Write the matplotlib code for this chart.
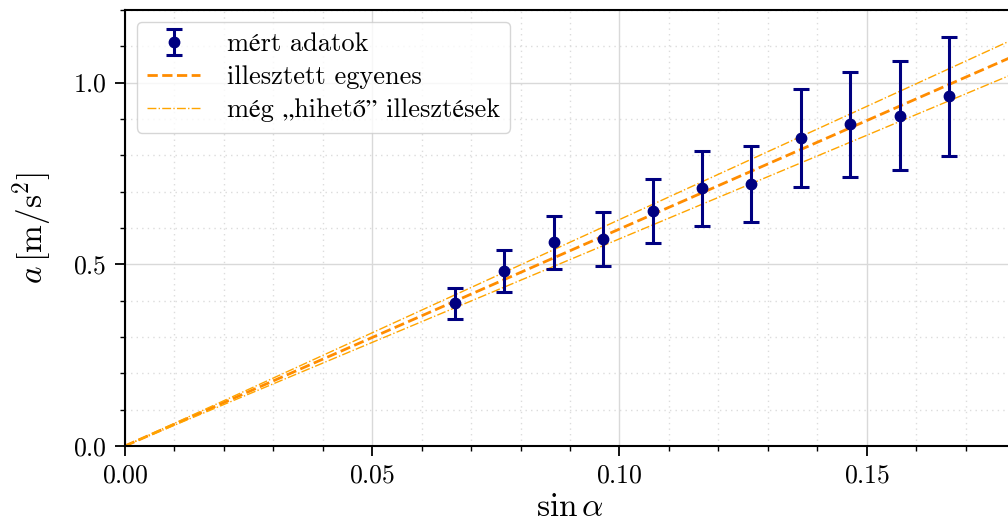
import numpy as np
import matplotlib
matplotlib.use("Agg")
import matplotlib.pyplot as plt
from matplotlib.ticker import MultipleLocator

plt.rcParams['font.family'] = ['cmr10', 'STIXGeneral']
plt.rcParams['mathtext.fontset'] = 'cm'
plt.rcParams['axes.formatter.use_mathtext'] = True

# measured data
sin_a = np.array([0.0667, 0.0767, 0.0867, 0.0967, 0.1067, 0.1167,
                  0.1267, 0.1367, 0.1467, 0.1567, 0.1667])
acc = np.array([0.393, 0.481, 0.560, 0.569, 0.646, 0.709,
                0.720, 0.847, 0.885, 0.909, 0.962])
acc_err = np.array([0.043, 0.058, 0.072, 0.074, 0.088, 0.103,
                    0.105, 0.135, 0.144, 0.150, 0.163])

# fitted slope and "plausible" slopes
slope_fit = 5.97
slope_lo = 5.70
slope_hi = 6.23

xs = np.linspace(0, 0.18, 50)

fig = plt.figure(figsize=(10.08, 5.24), dpi=100)
ax = fig.add_axes([0.124, 0.149, 0.883, 0.832])

ax.grid(which='major', color='#d9d9d9', lw=1.0)
ax.grid(which='minor', color='#dcdcdc', lw=1.0, ls=(0, (1, 3)))
ax.set_axisbelow(True)

h_err = ax.errorbar(sin_a, acc, yerr=acc_err, fmt='o', color='navy', ms=7.5,
                    elinewidth=2.2, capsize=6, capthick=2.2, zorder=3)
h_fit, = ax.plot(xs, slope_fit * xs, '--', color='darkorange', lw=2)
h_hi, = ax.plot(xs, slope_hi * xs, '-.', color='orange', lw=1)
ax.plot(xs, slope_lo * xs, '-.', color='orange', lw=1)

ax.set_xlim(0, 0.18)
ax.set_ylim(0, 1.2)
ax.xaxis.set_major_locator(MultipleLocator(0.05))
ax.xaxis.set_minor_locator(MultipleLocator(0.01))
ax.yaxis.set_major_locator(MultipleLocator(0.5))
ax.yaxis.set_minor_locator(MultipleLocator(0.1))
ax.tick_params(which='major', labelsize=18.5, length=7, width=1.3, pad=6)
ax.tick_params(which='minor', length=3.5, width=1)
for s in ax.spines.values():
    s.set_linewidth(1.5)

ax.set_xlabel(r'$\sin\alpha$', fontsize=24, labelpad=4)
ax.set_ylabel(r'$a\,[\mathrm{m/s^2}]$', fontsize=24, labelpad=14)

ax.legend([h_err, h_fit, h_hi],
          ['mért adatok', 'illesztett egyenes', 'még „hihető” illesztések'],
          loc='upper left', fontsize=19, borderaxespad=0.45,
          handlelength=2.0, handletextpad=1.0, labelspacing=0.35)

fig.savefig('out.png', dpi=100)
